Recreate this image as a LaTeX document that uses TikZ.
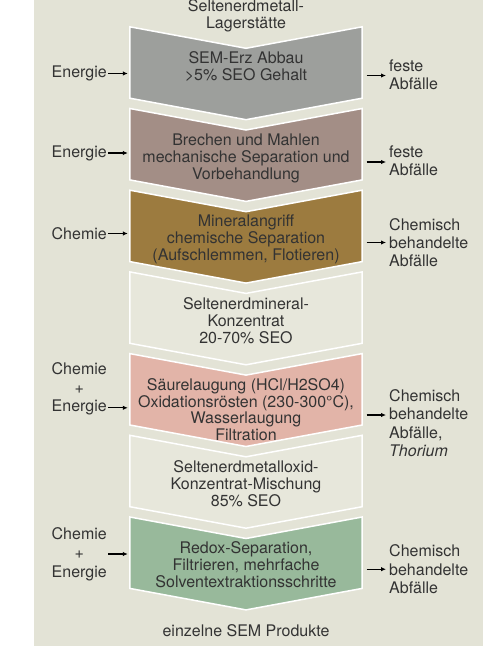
\documentclass[tikz,border=0pt]{standalone}
\usepackage{fontspec}
\setmainfont{TeX Gyre Heros}
\usetikzlibrary{positioning}
\usetikzlibrary{arrows.meta}
\definecolor{bgbeige}{HTML}{E3E3D6}
\definecolor{semgray}{HTML}{9D9F9C}
\definecolor{semtaupe}{HTML}{A38E86}
\definecolor{semochre}{HTML}{9C7B3F}
\definecolor{semlight}{HTML}{E7E7DB}
\definecolor{sempink}{HTML}{E2B4A8}
\definecolor{semgreen}{HTML}{98B99B}
\definecolor{txtgray}{HTML}{333333}

\begin{document}
\begin{tikzpicture}[
x=1pt, y=-1pt,
>={Latex[length=5pt,width=4.5pt]},
every node/.style={font=\fontsize{16}{17}\selectfont, text=txtgray, inner sep=0pt},
stepframe/.style={minimum width=232pt, minimum height=71pt},
chevron/.style={draw=white, line width=1.5pt},
steptext/.style={align=center},
inlabel/.style={align=center, anchor=east, font=\fontsize{16}{18.8}\selectfont},
outlabel/.style={align=left, anchor=west, font=\fontsize{16}{18.3}\selectfont},
inflow/.style={->, line width=1.1pt, black, shorten <=1pt, shorten >=2pt},
outflow/.style={->, line width=1.1pt, black, shorten <=4.5pt, shorten >=3pt},
]
\useasboundingbox (0,0) rectangle (493,652);
\fill[bgbeige] (34,0) rectangle (483,646);

%Chevrons
\foreach \i/\col [evaluate=\i as \ymid using 62.5+81.7*(\i-1)] in {1/semgray,2/semtaupe,3/semochre,4/semlight,5/sempink,6/semlight,7/semgreen}{
  \node[stepframe] (s\i) at (246,\ymid) {};
  \draw[chevron, fill=\col] (s\i.north west) -- ([yshift=-21.5pt]s\i.north) -- (s\i.north east) -- (s\i.south east) -- ([yshift=-21.5pt]s\i.south) -- (s\i.south west) -- cycle;
}

%Nodes
\node[steptext] (deposit) at (246,15.6) {Seltenerdmetall-\\Lagerstätte};
\node[steptext] (mining)  at (246,66.8) {SEM-Erz Abbau\\>5\% SEO Gehalt};
\node[steptext] (crushing) at (246,158.3) {Brechen und Mahlen\\mechanische Separation und\\Vorbehandlung};
\node[steptext] (attack) at (246,239.2) {Mineralangriff\\chemische Separation\\(Aufschlemmen, Flotieren)};
\node[steptext] (concentrate) at (246,320.2) {Seltenerdmineral-\\Konzentrat\\20-70\% SEO};
\node[steptext, font=\fontsize{16}{16.4}\selectfont] (leaching) at (246,409.6) {Säurelaugung (HCl/H2SO4)\\Oxidationsrösten (230-300°C),\\Wasserlaugung\\Filtration};
\node[steptext] (oxidemix) at (246,483.2) {Seltenerdmetalloxid-\\Konzentrat-Mischung\\85\% SEO};
\node[steptext] (separation) at (246,565) {Redox-Separation,\\Filtrieren, mehrfache\\Solventextraktionsschritte};
\node[steptext] (products) at (246,630.9) {einzelne SEM Produkte};

\node[inlabel] (in1) at (107,73.5) {Energie};
\node[inlabel] (in2) at (107,153) {Energie};
\node[inlabel] (in3) at (107,233.5) {Chemie};
\node[inlabel] (in5) at (107,388.8) {Chemie\\+\\Energie};
\node[inlabel] (in7) at (107,554) {Chemie\\+\\Energie};

\node[outlabel] (out1) at (389,74.5) {feste\\Abfälle};
\node[outlabel] (out2) at (389,160.5) {feste\\Abfälle};
\node[outlabel] (out3) at (389,242.5) {Chemisch\\behandelte\\Abfälle};
\node[outlabel] (out5) at (389,423) {Chemisch\\behandelte\\Abfälle,\\\textit{Thorium}};
\node[outlabel] (out7) at (389,569.2) {Chemisch\\behandelte\\Abfälle};

%Lines
\draw[inflow] (in1.east) -- (in1.east -| s1.west);
\draw[inflow] (in2.east) -- (in2.east -| s2.west);
\draw[inflow] (in3.east) -- (in3.east -| s3.west);
\draw[inflow] ([yshift=-19pt]in5.east) -- ([yshift=-19pt]in5.east -| s5.west);
\draw[inflow] (in7.east) -- (in7.east -| s7.west);

\draw[outflow] ([yshift=-1pt]s1.east |- out1.west) -- ([yshift=-1pt]out1.west);
\draw[outflow] ([yshift=-1.5pt]s2.east |- out2.west) -- ([yshift=-1.5pt]out2.west);
\draw[outflow] (s3.east |- out3.west) -- (out3.west);
\draw[outflow] ([yshift=8pt]s5.east |- out5.west) -- ([yshift=8pt]out5.west);
\draw[outflow] (s7.east |- out7.west) -- (out7.west);

\end{tikzpicture}
\end{document}
